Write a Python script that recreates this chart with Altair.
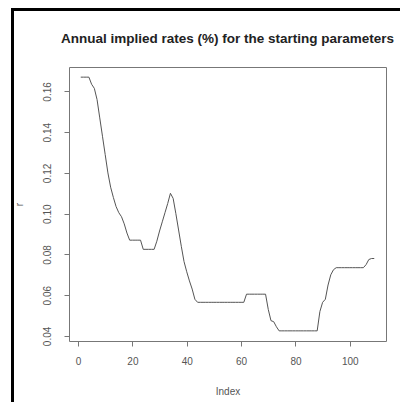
import altair as alt
import pandas as pd

index = list(range(1, 110))
rates = (
    [0.1670, 0.1670, 0.1670, 0.1670, 0.1635, 0.1615, 0.1560, 0.1470, 0.1380, 0.1290,
     0.1200, 0.1130, 0.1080, 0.1035, 0.1005, 0.0985, 0.0950, 0.0905, 0.0870, 0.0870,
     0.0870, 0.0870, 0.0870, 0.0825, 0.0825, 0.0825, 0.0825, 0.0825, 0.0865, 0.0915,
     0.0960, 0.1005, 0.1050, 0.1100, 0.1075, 0.1000, 0.0920, 0.0840, 0.0765, 0.0715,
     0.0670, 0.0630, 0.0580]
    + [0.0565] * 18
    + [0.0605] * 8
    + [0.0530, 0.0475, 0.0470, 0.0445]
    + [0.0425] * 15
    + [0.0520, 0.0565, 0.0580, 0.0650, 0.0700, 0.0725]
    + [0.0735] * 11
    + [0.0750, 0.0775, 0.0780, 0.0780]
)
x_ticks = [0, 20, 40, 60, 80, 100]
y_ticks = [0.04, 0.06, 0.08, 0.10, 0.12, 0.14, 0.16]

df = pd.DataFrame({"Index": index, "r": rates})

# R-style 4% padding on both axes
xr = max(index) - min(index)
x_dom = [min(index) - 0.04 * xr, max(index) + 0.04 * xr]
yr = max(rates) - min(rates)
y_dom = [min(rates) - 0.04 * yr, max(rates) + 0.04 * yr]

FONT = "Liberation Sans"

line = alt.Chart(df).mark_line(color="#555555", strokeWidth=1, clip=True).encode(
    x=alt.X("Index:Q",
            scale=alt.Scale(domain=x_dom, nice=False, zero=False),
            axis=alt.Axis(values=x_ticks, grid=False, domain=False, tickSize=5,
                          tickColor="#777777", labelFont=FONT, labelFontSize=10,
                          labelColor="#555555", labelPadding=10, title="Index",
                          titleFont=FONT, titleFontSize=10, titleFontWeight="normal",
                          titleColor="#555555", titlePadding=20)),
    y=alt.Y("r:Q",
            scale=alt.Scale(domain=y_dom, nice=False, zero=False),
            axis=alt.Axis(values=y_ticks, format=".2f", grid=False, domain=False,
                          tickSize=5, tickColor="#777777", labelFont=FONT,
                          labelFontSize=10, labelColor="#555555", labelAngle=270,
                          labelAlign="center", labelBaseline="bottom", labelPadding=12,
                          title="r", titleFont=FONT, titleFontSize=10,
                          titleFontWeight="normal", titleColor="#555555",
                          titlePadding=18)),
)

frame_v = alt.Chart(df).mark_rule(color="black", strokeWidth=3, clip=False).encode(
    x=alt.value(-56.5), y=alt.value(-59), y2=alt.value(343))
frame_h = alt.Chart(df).mark_rule(color="black", strokeWidth=3, clip=False).encode(
    x=alt.value(-58), x2=alt.value(331), y=alt.value(-57.5))

chart = alt.layer(line, frame_v, frame_h).properties(
    width=317,
    height=274,
    autosize=alt.AutoSizeParams(type="none"),
    padding={"left": 61, "top": 59, "right": 14, "bottom": 61},
    title=alt.TitleParams(
        "Annual implied rates (%) for the starting parameters",
        font=FONT, fontSize=13.5, fontWeight="bold", color="#222222",
        anchor="middle", frame="group", offset=-50, baseline="alphabetic"),
).configure_view(stroke="#777777", strokeWidth=1, fill="white")

chart.save("out.html", embed_options={"renderer": "svg", "actions": False})
